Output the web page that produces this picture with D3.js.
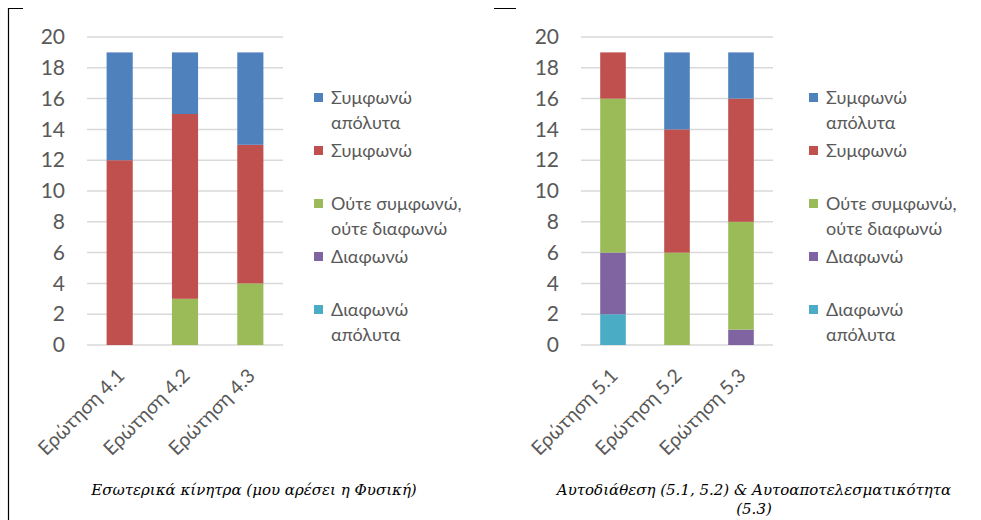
<!DOCTYPE html>
<html>
<head>
<meta charset="utf-8">
<script src="https://cdn.jsdelivr.net/npm/d3@7"></script>
<style>
  body { margin: 0; background: #fff; }
  svg { display: block; }
  .tick text { fill: #595959; }
</style>
</head>
<body>
<div id="chart"></div>
<script>
"use strict";

// legend / stack order, top of the stack first
const seriesNames = [
  "Συμφωνώ απόλυτα",
  "Συμφωνώ",
  "Ούτε συμφωνώ, ούτε διαφωνώ",
  "Διαφωνώ",
  "Διαφωνώ απόλυτα",
];
const legendLines = [
  ["Συμφωνώ", "απόλυτα"],
  ["Συμφωνώ"],
  ["Ούτε συμφωνώ,", "ούτε διαφωνώ"],
  ["Διαφωνώ"],
  ["Διαφωνώ", "απόλυτα"],
];
const colors = ["#4F81BD", "#C0504D", "#9BBB59", "#8064A2", "#4BACC6"];

const yTicks = [0, 2, 4, 6, 8, 10, 12, 14, 16, 18, 20];

// chart 1
const questions1 = ["Ερώτηση 4.1", "Ερώτηση 4.2", "Ερώτηση 4.3"];
const agreeAbs1 = [7, 4, 6];
const agree1 = [12, 12, 9];
const neutral1 = [0, 3, 4];
const disagree1 = [0, 0, 0];
const disagreeAbs1 = [0, 0, 0];
const title1 = ["Εσωτερικά κίνητρα (μου αρέσει η Φυσική)"];

// chart 2
const questions2 = ["Ερώτηση 5.1", "Ερώτηση 5.2", "Ερώτηση 5.3"];
const agreeAbs2 = [0, 5, 3];
const agree2 = [3, 8, 8];
const neutral2 = [10, 6, 7];
const disagree2 = [4, 0, 1];
const disagreeAbs2 = [2, 0, 0];
const title2 = ["Αυτοδιάθεση (5.1, 5.2) & Αυτοαποτελεσματικότητα", "(5.3)"];

const W = 981, H = 520;
const svg = d3.select("#chart").append("svg").attr("width", W).attr("height", H);

// page frame marks
svg.append("path")
  .attr("d", "M8.5,520V8.5H23 M494,8.5H516")
  .attr("fill", "none")
  .attr("stroke", "#000")
  .attr("stroke-width", 1.2);

function buildRows(cats, cols) {
  return cats.map((c, i) => {
    const row = { cat: c };
    seriesNames.forEach((s, j) => (row[s] = cols[j][i]));
    return row;
  });
}

function drawChart(opt) {
  const g = svg.append("g");
  const rows = buildRows(opt.cats, opt.cols);

  const x = d3.scaleBand()
    .domain(opt.cats)
    .range([opt.left, opt.right])
    .paddingInner(0.6)
    .paddingOuter(0.3);
  const y = d3.scaleLinear().domain([0, 20]).range([345, 37]);

  // gridlines
  g.append("g")
    .selectAll("line")
    .data(yTicks)
    .join("line")
    .attr("x1", opt.left)
    .attr("x2", opt.right)
    .attr("y1", (d) => y(d))
    .attr("y2", (d) => y(d))
    .attr("stroke", "#D9D9D9")
    .attr("stroke-width", 1.5);

  // y axis labels
  const ya = g.append("g")
    .attr("transform", `translate(${opt.left},0)`)
    .call(d3.axisLeft(y).tickValues(yTicks).tickSize(0).tickPadding(22));
  ya.select(".domain").remove();
  ya.selectAll("text")
    .attr("font-family", "Lato, sans-serif")
    .attr("font-size", 21)
    .attr("fill", "#595959");

  // stacked bars, bottom series first
  const stack = d3.stack().keys(seriesNames.slice().reverse());
  const layers = stack(rows);
  g.selectAll("g.layer")
    .data(layers)
    .join("g")
    .attr("class", "layer")
    .attr("fill", (d) => colors[seriesNames.indexOf(d.key)])
    .selectAll("rect")
    .data((d) => d)
    .join("rect")
    .attr("x", (d) => x(d.data.cat))
    .attr("width", x.bandwidth())
    .attr("y", (d) => y(d[1]))
    .attr("height", (d) => y(d[0]) - y(d[1]));

  // x labels
  const xa = g.append("g")
    .attr("transform", "translate(0,345)")
    .call(d3.axisBottom(x).tickSize(0).tickPadding(0));
  xa.select(".domain").remove();
  xa.selectAll("text")
    .attr("font-family", "Lato, sans-serif")
    .attr("font-size", 19.5)
    .attr("fill", "#595959")
    .attr("text-anchor", "end")
    .attr("dy", 0)
    .attr("transform", "translate(6,32) rotate(-45)");

  // legend
  const lg = g.append("g").attr("transform", `translate(${opt.legendX},0)`);
  legendLines.forEach((lines, i) => {
    const cy = 98 + i * 53;
    lg.append("rect")
      .attr("x", 0)
      .attr("y", cy - 5)
      .attr("width", 9)
      .attr("height", 9)
      .attr("fill", colors[i]);
    lines.forEach((t, k) => {
      lg.append("text")
        .attr("x", 17)
        .attr("y", cy + k * 25 + 6)
        .attr("font-family", "Lato, sans-serif")
        .attr("font-size", 18)
        .attr("fill", "#595959")
        .text(t);
    });
  });

  // title
  opt.title.forEach((t, k) => {
    g.append("text")
      .attr("x", opt.titleX)
      .attr("y", 495 + k * 19)
      .attr("text-anchor", "middle")
      .attr("font-family", "'DejaVu Serif', serif")
      .attr("font-style", "italic")
      .attr("font-size", 15)
      .attr("fill", "#000")
      .text(t);
  });
}

drawChart({
  cats: questions1,
  cols: [agreeAbs1, agree1, neutral1, disagree1, disagreeAbs1],
  left: 87,
  right: 283,
  legendX: 314,
  title: title1,
  titleX: 254,
});

drawChart({
  cats: questions2,
  cols: [agreeAbs2, agree2, neutral2, disagree2, disagreeAbs2],
  left: 581,
  right: 773,
  legendX: 809,
  title: title2,
  titleX: 754,
});
</script>
</body>
</html>
